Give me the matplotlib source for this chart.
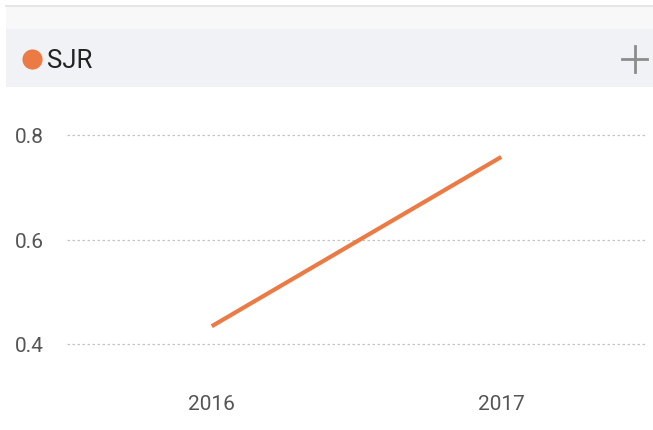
import matplotlib.pyplot as plt
from matplotlib.patches import Rectangle

years = ['2016', '2017']
sjr = [0.434, 0.758]
yticks = [0.4, 0.6, 0.8]

W, H = 653, 431
plt.rcParams['font.family'] = ['Roboto', 'DejaVu Sans']

fig = plt.figure(figsize=(W / 100, H / 100), dpi=100)
fig.patch.set_facecolor('white')

# header bands (pixel coords -> figure fractions)
def fr(x, y, w, h):
    return (x / W, 1 - (y + h) / H, w / W, h / H)

x0, y0, w0, h0 = fr(6, 7, 647, 23)
fig.patches.append(Rectangle((x0, y0), w0, h0, transform=fig.transFigure,
                             facecolor='#f8f8f8', edgecolor='none'))
fig.add_artist(plt.Line2D([6 / W, 1], [1 - 7 / H] * 2, color='#e6e6e6', lw=1.5))
x1, y1, w1, h1 = fr(6, 30, 647, 58)
fig.patches.append(Rectangle((x1, y1), w1, h1, transform=fig.transFigure,
                             facecolor='#f0f2f6', edgecolor='none'))

fig.add_artist(plt.Line2D([32 / W], [1 - 60 / H], marker='o', markersize=14.5,
                          color='#ec7a45', markeredgewidth=0))
fig.text(47 / W, 1 - 61 / H, 'SJR', color='#222222', fontsize=18.5,
         ha='left', va='center')
fig.add_artist(plt.Line2D([622 / W, 647 / W], [1 - 60 / H] * 2, color='#8c8c8c', lw=2))
fig.add_artist(plt.Line2D([634.5 / W] * 2, [1 - 47 / H, 1 - 73 / H], color='#8c8c8c', lw=2))

# plot area
ax = fig.add_axes([67 / W, 1 - 370 / H, 579 / W, 250 / H])
x = list(range(len(years)))
ax.plot(x, sjr, color='#ec7a45', lw=3, solid_capstyle='butt')
ax.set_xlim(-0.5, 1.5)
ax.set_ylim(0.4 - 25 / 522.5, 0.8 + 16 / 522.5)
ax.set_yticks(yticks)
ax.set_yticklabels(['%.1f' % v for v in yticks])
ax.set_xticks(x)
ax.set_xticklabels(years)
ax.grid(axis='y', color='#c4c4c4', linestyle=(0, (2, 2)), lw=0.9)
ax.tick_params(length=0, labelsize=15, labelcolor='#555555')
ax.tick_params(axis='y', pad=16.5)
ax.tick_params(axis='x', pad=18)
for s in ax.spines.values():
    s.set_visible(False)

fig.savefig('out.png', dpi=100)
